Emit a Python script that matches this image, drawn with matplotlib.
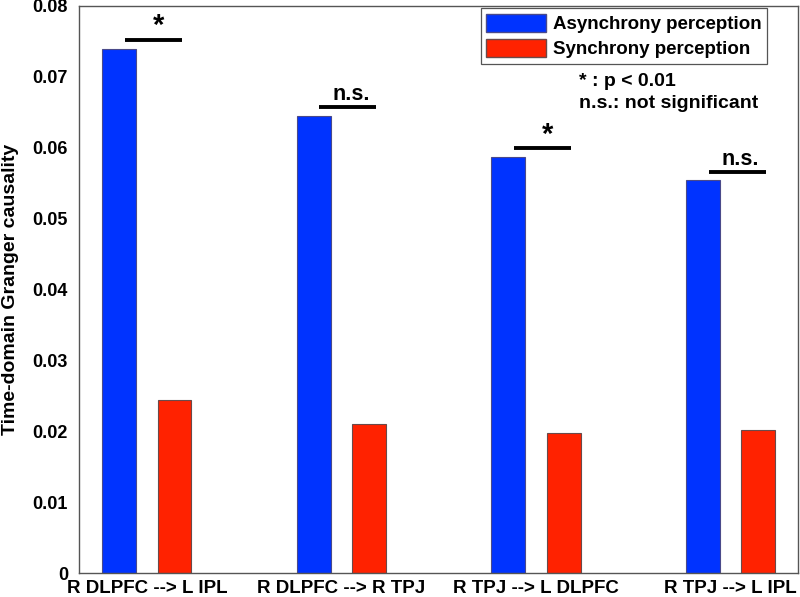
import matplotlib
matplotlib.use("Agg")
import matplotlib.pyplot as plt
import numpy as np
from matplotlib.patches import Patch

plt.rcParams['font.family'] = ['Liberation Sans', 'DejaVu Sans']

categories = ["R DLPFC --> L IPL", "R DLPFC --> R TPJ", "R TPJ --> L DLPFC", "R TPJ --> L IPL"]
asynchrony = [0.0740, 0.0645, 0.0587, 0.0554]
synchrony = [0.0244, 0.0210, 0.0197, 0.0202]
sig_labels = ["*", "n.s.", "*", "n.s."]
series_names = ["Asynchrony perception", "Synchrony perception"]
yticks = [0, 0.01, 0.02, 0.03, 0.04, 0.05, 0.06, 0.07, 0.08]

blue = "#0033FF"
red = "#FF2200"

fig = plt.figure(figsize=(8.0, 5.97), dpi=100)
ax = fig.add_axes([79/800, 24/597, (798-79)/800, (573-6)/597])

x = np.arange(1, len(categories) + 1)
off = 0.142
w = 0.174
ax.bar(x - off, asynchrony, width=w, color=blue, edgecolor="#4a4a8a", linewidth=0.8)
ax.bar(x + off, synchrony, width=w, color=red, edgecolor="#6a4a4a", linewidth=0.8)

for xi, a, lab in zip(x, asynchrony, sig_labels):
    yl = a + 0.0012
    ax.plot([xi - 0.113, xi + 0.18], [yl, yl], color="black", lw=2.8, solid_capstyle="butt")
    if lab == "*":
        ax.text(xi + 0.06, yl + 0.0000, lab, ha="center", va="bottom", fontsize=21, fontweight="bold")
    else:
        ax.text(xi + 0.05, yl + 0.0003, lab, ha="center", va="bottom", fontsize=15.5, fontweight="bold")

ax.set_xlim(0.651, 4.347)
ax.set_ylim(0, 0.08)
ax.set_yticks(yticks)
ax.set_yticklabels(["0", "0.01", "0.02", "0.03", "0.04", "0.05", "0.06", "0.07", "0.08"],
                   fontsize=13, fontweight="bold")
ax.set_xticks(x)
ax.set_xticklabels(categories, fontsize=13.5, fontweight="bold")
ax.tick_params(axis="both", length=0)
ax.tick_params(axis="x", pad=5)
ax.tick_params(axis="y", pad=8)
ax.set_ylabel("Time-domain Granger causality", fontsize=14, fontweight="bold", labelpad=10)
for s in ax.spines.values():
    s.set_color("#555555")
    s.set_linewidth(1.0)

handles = [Patch(facecolor=blue, edgecolor="#4a4a8a"), Patch(facecolor=red, edgecolor="#6a4a4a")]
leg = ax.legend(handles, series_names, loc="upper right",
                bbox_to_anchor=((767-79)/719, (573-8)/567),
                prop={"size": 13.5, "weight": "bold"}, fancybox=False, edgecolor="#555555",
                framealpha=1, handlelength=3.2, handleheight=1.1, borderpad=0.3,
                labelspacing=0.3, handletextpad=0.35, borderaxespad=0)
leg.get_frame().set_linewidth(0.9)

fig.text(579/800, 1 - 82/597, "* : p < 0.01", fontsize=14, fontweight="bold", ha="left", va="center")
fig.text(579/800, 1 - 104/597, "n.s.: not significant", fontsize=14, fontweight="bold", ha="left", va="center")

fig.savefig("out.png", dpi=100)
